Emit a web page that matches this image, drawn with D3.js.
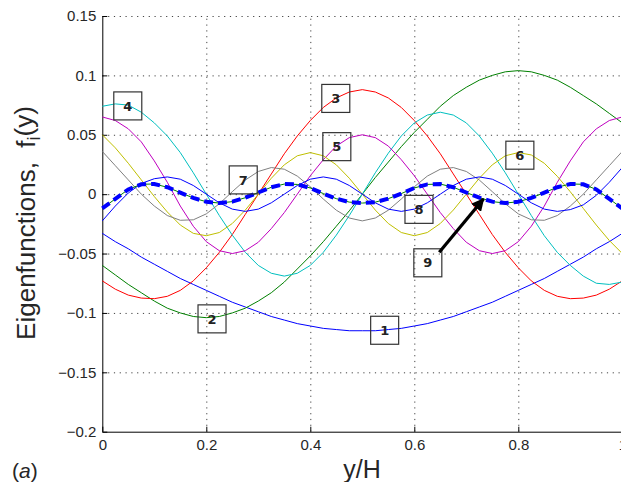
<!DOCTYPE html>
<html>
<head>
<meta charset="utf-8">
<script src="https://cdn.jsdelivr.net/npm/d3@7"></script>
<style>
  body { margin: 0; background: #fff; }
  svg { display: block; font-family: "Liberation Sans", Arial, Helvetica, sans-serif; }
  .tick text { fill: #262626; font-size: 15px; }
  .grid line { stroke: #444; stroke-width: 1; stroke-dasharray: 1.2,4.6; }
  .lbl rect { fill: none; stroke: #333; stroke-width: 1.2; }
  .lbl text { font-family: "DejaVu Sans", sans-serif; font-weight: bold; font-size: 13px; fill: #222; }
</style>
</head>
<body>
<svg id="chart" width="621" height="482"></svg>
<script>
    // y/H sample points, step 0.025
    var yH = [0, 0.025, 0.05, 0.075, 0.1, 0.125, 0.15, 0.175, 0.2, 0.225, 0.25, 0.275, 0.3, 0.325, 0.35, 0.375, 0.4, 0.425, 0.45, 0.475, 0.5,
              0.525, 0.55, 0.575, 0.6, 0.625, 0.65, 0.675, 0.7, 0.725, 0.75, 0.775, 0.8, 0.825, 0.85, 0.875, 0.9, 0.925, 0.95, 0.975, 1];

    // eigenfunctions
    var f1 = [-0.033, -0.040, -0.046, -0.053, -0.059, -0.065, -0.071, -0.076, -0.081, -0.086, -0.091, -0.095, -0.099, -0.103, -0.106, -0.109, -0.111, -0.113, -0.114, -0.115, -0.115,
              -0.115, -0.114, -0.113, -0.111, -0.109, -0.106, -0.103, -0.099, -0.095, -0.091, -0.086, -0.081, -0.076, -0.071, -0.065, -0.059, -0.053, -0.046, -0.040, -0.033];
    var f2 = [-0.060, -0.068, -0.076, -0.083, -0.090, -0.096, -0.100, -0.103, -0.104, -0.103, -0.100, -0.096, -0.090, -0.083, -0.074, -0.063, -0.052, -0.040, -0.027, -0.014, 0,
              0.014, 0.027, 0.040, 0.052, 0.063, 0.074, 0.083, 0.090, 0.096, 0.100, 0.103, 0.104, 0.103, 0.100, 0.096, 0.090, 0.083, 0.076, 0.068, 0.060];
    var f3 = [-0.073, -0.080, -0.085, -0.0875, -0.088, -0.086, -0.081, -0.073, -0.062, -0.049, -0.034, -0.017, 0, 0.017, 0.034, 0.049, 0.062, 0.073, 0.081, 0.086, 0.088,
              0.086, 0.081, 0.073, 0.062, 0.049, 0.034, 0.017, 0, -0.017, -0.034, -0.049, -0.062, -0.073, -0.081, -0.086, -0.088, -0.0875, -0.085, -0.080, -0.073];
    var f4 = [0.074, 0.076, 0.075, 0.069, 0.060, 0.049, 0.035, 0.018, 0, -0.018, -0.0345, -0.049, -0.060, -0.0666, -0.069, -0.0666, -0.060, -0.049, -0.0345, -0.018, 0,
              0.018, 0.0345, 0.049, 0.060, 0.0666, 0.069, 0.0666, 0.060, 0.049, 0.0345, 0.018, 0, -0.018, -0.035, -0.049, -0.060, -0.069, -0.075, -0.076, -0.074];
    var f5 = [0.065, 0.062, 0.055, 0.044, 0.028, 0.010, -0.010, -0.027, -0.040, -0.0476, -0.050, -0.0476, -0.0405, -0.029, -0.0155, 0, 0.0155, 0.029, 0.0405, 0.0476, 0.050,
              0.0476, 0.0405, 0.029, 0.0155, 0, -0.0155, -0.029, -0.0405, -0.0476, -0.050, -0.0476, -0.040, -0.027, -0.010, 0.010, 0.028, 0.044, 0.055, 0.062, 0.065];
    var f6 = [0.050, 0.039, 0.026, 0.012, -0.002, -0.015, -0.026, -0.033, -0.035, -0.0323, -0.0247, -0.0134, 0, 0.0134, 0.0247, 0.0323, 0.035, 0.0323, 0.0247, 0.0134, 0,
              -0.0134, -0.0247, -0.0323, -0.035, -0.0323, -0.0247, -0.0134, 0, 0.0134, 0.0247, 0.0323, 0.035, 0.033, 0.026, 0.015, 0.002, -0.012, -0.026, -0.039, -0.050];
    var f7 = [0.036, 0.024, 0.012, 0, -0.010, -0.018, -0.022, -0.0216, -0.0166, -0.0081, 0.0021, 0.0119, 0.0191, 0.0224, 0.021, 0.0152, 0.0062, -0.0041, -0.0135, -0.0201, -0.0225,
              -0.0201, -0.0135, -0.0041, 0.0062, 0.0152, 0.021, 0.0224, 0.0191, 0.0119, 0.0021, -0.0081, -0.0166, -0.0216, -0.022, -0.018, -0.010, 0, 0.012, 0.024, 0.036];
    var f8 = [-0.0225, -0.010, 0.001, 0.009, 0.013, 0.0145, 0.0126, 0.0073, 0, -0.0073, -0.0126, -0.0145, -0.0126, -0.0073, 0, 0.0073, 0.0126, 0.0145, 0.0126, 0.0073, 0,
              -0.0073, -0.0126, -0.0145, -0.0126, -0.0073, 0, 0.0073, 0.0126, 0.0145, 0.0126, 0.0073, 0, -0.0073, -0.0126, -0.0145, -0.013, -0.009, -0.001, 0.010, 0.0225];
    var f9 = [-0.012, -0.004, 0.004, 0.0083, 0.0086, 0.0058, 0.0013, -0.0032, -0.0064, -0.0075, -0.0063, -0.003, 0.0014, 0.0058, 0.0085, 0.0082, 0.0052, 0.0005, -0.0038, -0.0067, -0.0075,
              -0.0067, -0.0038, 0.0005, 0.0052, 0.0082, 0.0085, 0.0058, 0.0014, -0.003, -0.0063, -0.0075, -0.0064, -0.0032, 0.0013, 0.0058, 0.0086, 0.0083, 0.004, -0.004, -0.012];

    var modes = [f1, f2, f3, f4, f5, f6, f7, f8, f9];
    var modeColors = ["#0000ff", "#008000", "#ff0000", "#00bfbf", "#bf00bf", "#bfbf00", "#808080", "#0000ff", "#008000"];

    // boxed mode numbers, [label, y/H, f]
    var labels = [["1", 0.543, -0.1146], ["2", 0.211, -0.105], ["3", 0.449, 0.0806], ["4", 0.049, 0.0743], ["5", 0.451, 0.040],
                  ["6", 0.803, 0.0328], ["7", 0.271, 0.012], ["8", 0.609, -0.0128], ["9", 0.626, -0.0578]];
    var arrowFrom = [0.648, -0.049], arrowTo = [0.733, -0.004];

    var xTicks = [0, 0.2, 0.4, 0.6, 0.8, 1],
        xTickLabels = ["0", "0.2", "0.4", "0.6", "0.8", "1"];
    var yTicks = [-0.2, -0.15, -0.1, -0.05, 0, 0.05, 0.1, 0.15],
        yTickLabels = ["\u22120.2", "\u22120.15", "\u22120.1", "\u22120.05", "0", "0.05", "0.1", "0.15"];

    var svg = d3.select("#chart");
    var x = d3.scaleLinear().domain([0, 1]).range([102.3, 622.3]),
        y = d3.scaleLinear().domain([-0.2, 0.15]).range([431.7, 16]);

    // dotted grid
    var grid = svg.append("g").attr("class", "grid");
    grid.selectAll(".gy").data(yTicks.slice(1)).enter().append("line")
        .attr("x1", x(0)).attr("x2", x(1))
        .attr("y1", d => y(d) + 0.5).attr("y2", d => y(d) + 0.5);
    grid.selectAll(".gx").data(xTicks.slice(1)).enter().append("line")
        .attr("y1", y(-0.2)).attr("y2", y(0.15))
        .attr("x1", d => x(d) + 0.5).attr("x2", d => x(d) + 0.5);

    // axes, ticks pointing inward
    svg.append("g")
        .attr("transform", "translate(" + x(0) + ",0)")
        .call(d3.axisLeft(y).tickValues(yTicks).tickFormat((d, i) => yTickLabels[i])
            .tickSizeInner(-5).tickSizeOuter(0).tickPadding(6));
    svg.append("g")
        .attr("transform", "translate(0," + y(-0.2) + ")")
        .call(d3.axisBottom(x).tickValues(xTicks).tickFormat((d, i) => xTickLabels[i])
            .tickSizeInner(-5).tickSizeOuter(0).tickPadding(8));
    svg.selectAll(".domain").attr("stroke", "#000");

    var line = d3.line()
        .x((d, i) => x(yH[i]))
        .y(d => y(d));

    svg.append("g").selectAll("path")
        .data(modes).enter().append("path")
        .attr("d", line)
        .attr("fill", "none")
        .attr("stroke", (d, i) => modeColors[i])
        .attr("stroke-width", 1);

    // thick dashed overlay on mode 9
    svg.append("path")
        .attr("d", line(f9))
        .attr("fill", "none")
        .attr("stroke", "#0000ff")
        .attr("stroke-width", 4)
        .attr("stroke-dasharray", "9,5");

    var lbl = svg.append("g").selectAll(".lbl")
        .data(labels).enter().append("g")
        .attr("class", "lbl")
        .attr("transform", d => "translate(" + x(d[1]) + "," + y(d[2]) + ")");
    lbl.append("rect").attr("x", -14).attr("y", -14).attr("width", 28).attr("height", 28);
    lbl.append("text").attr("text-anchor", "middle").attr("dy", "0.36em").text(d => d[0]);

    // arrow pointing at mode 9
    svg.append("defs").append("marker")
        .attr("id", "head").attr("viewBox", "0 0 10 10")
        .attr("refX", 9).attr("refY", 5)
        .attr("markerWidth", 4).attr("markerHeight", 4)
        .attr("orient", "auto")
        .append("path").attr("d", "M0,0L10,5L0,10Z").attr("fill", "#000");
    svg.append("line")
        .attr("x1", x(arrowFrom[0])).attr("y1", y(arrowFrom[1]))
        .attr("x2", x(arrowTo[0])).attr("y2", y(arrowTo[1]))
        .attr("stroke", "#000").attr("stroke-width", 3.2)
        .attr("marker-end", "url(#head)");

    // axis titles
    var yl = svg.append("text")
        .attr("transform", "translate(35,223) rotate(-90)")
        .attr("text-anchor", "middle")
        .attr("font-size", 26).attr("fill", "#262626");
    yl.append("tspan").text("Eigenfunctions,\u00a0\u00a0f");
    yl.append("tspan").attr("dy", "0.3em").attr("font-size", 18).text("i");
    yl.append("tspan").attr("dy", "-0.3em").text("(y)");

    svg.append("text")
        .attr("x", 362).attr("y", 478)
        .attr("text-anchor", "middle")
        .attr("font-size", 25).attr("fill", "#262626")
        .text("y/H");

    var tag = svg.append("text").attr("x", 12).attr("y", 478).attr("font-size", 21).attr("fill", "#262626");
    tag.append("tspan").text("(");
    tag.append("tspan").attr("font-style", "italic").text("a");
    tag.append("tspan").text(")");
</script>
</body>
</html>
